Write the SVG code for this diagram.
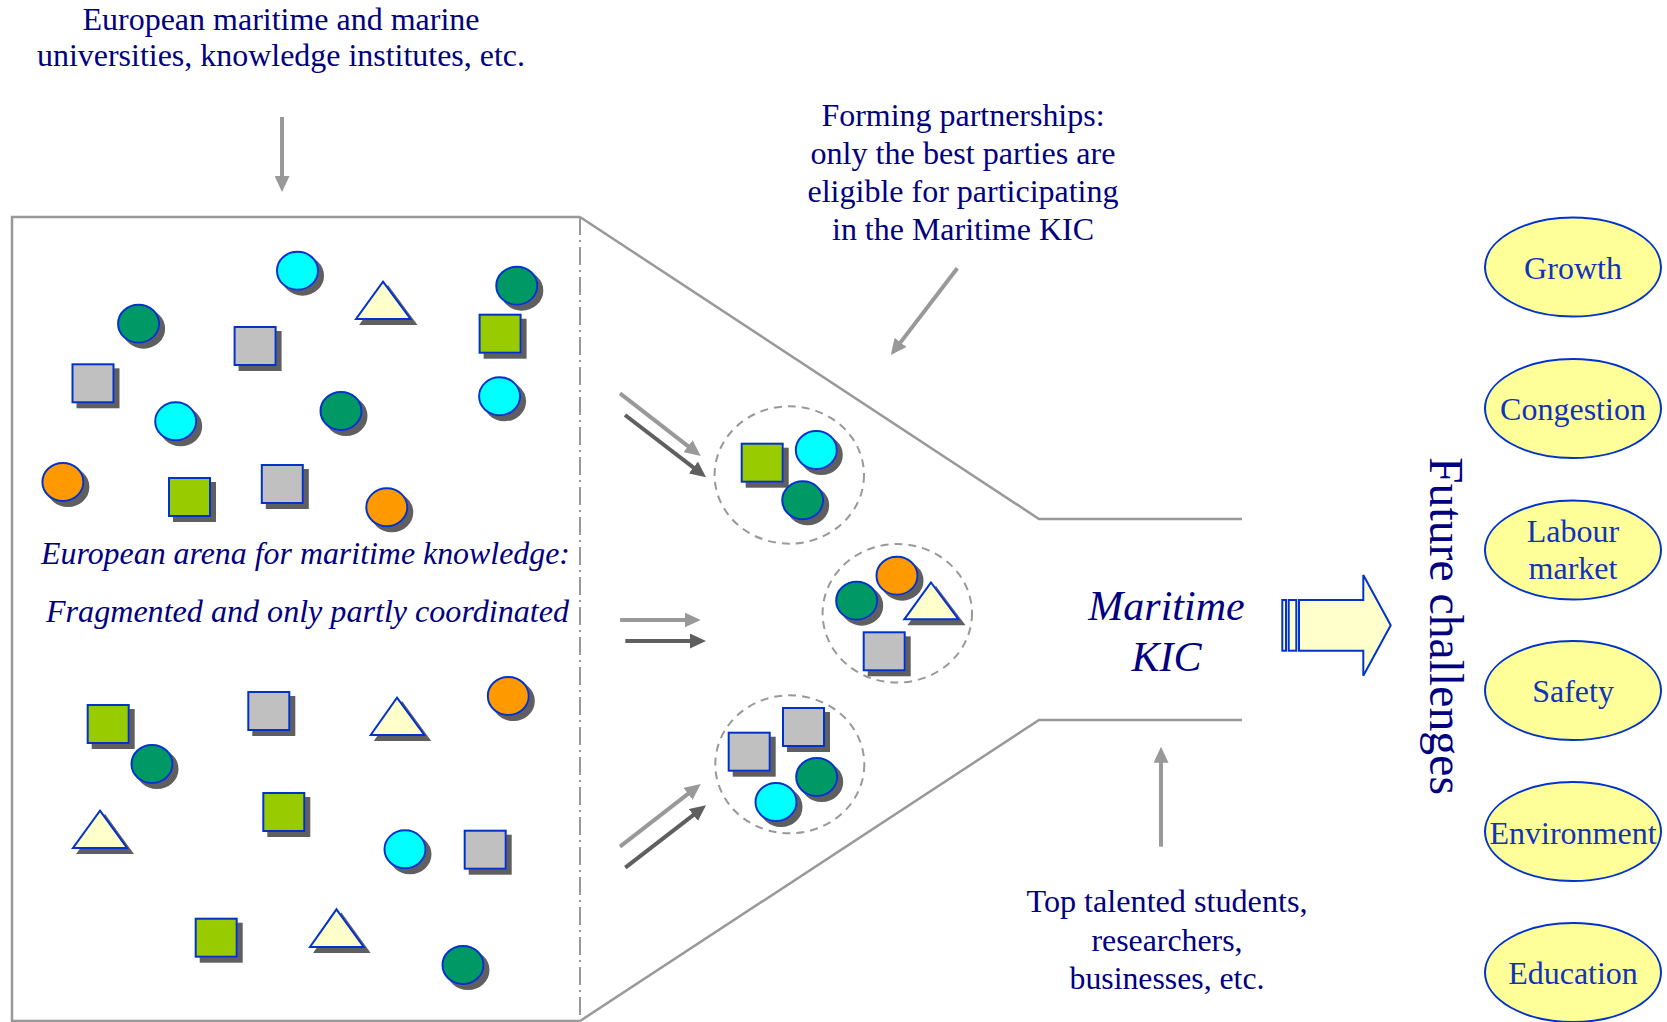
<svg xmlns="http://www.w3.org/2000/svg" width="1667" height="1022" viewBox="0 0 1667 1022">
<defs>
<filter id="sh" x="-30%" y="-30%" width="160%" height="160%">
<feOffset in="SourceAlpha" dx="5" dy="5" result="o"/>
<feFlood flood-color="#5f5f5f"/>
<feComposite in2="o" operator="in" result="s"/>
<feMerge><feMergeNode in="s"/><feMergeNode in="SourceGraphic"/></feMerge>
</filter>
<marker id="ahL" viewBox="0 0 16 15" markerUnits="userSpaceOnUse" markerWidth="16" markerHeight="15" refX="6" refY="7.5" orient="auto"><path d="M0,0 L16,7.5 L0,15 z" fill="#999"/></marker>
<marker id="ahD" viewBox="0 0 16 15" markerUnits="userSpaceOnUse" markerWidth="16" markerHeight="15" refX="6" refY="7.5" orient="auto"><path d="M0,0 L16,7.5 L0,15 z" fill="#5f5f5f"/></marker>
</defs>
<style>
.t{font-family:"Liberation Serif","Times New Roman",serif;fill:#000080;font-size:31px;text-anchor:middle}
.it{font-family:"Liberation Serif","Times New Roman",serif;fill:#000080;font-style:italic}
.ct{font-family:"Liberation Serif","Times New Roman",serif;fill:#1133bb;font-size:32px;text-anchor:middle}
.ch{fill:#ffff99;stroke:#0033cc;stroke-width:2}
.s{stroke:#0033cc;stroke-width:2;filter:url(#sh)}
.cy{fill:#00ffff}.gn{fill:#009966}.or{fill:#ff9900}.lm{fill:#99cc00}.gy{fill:#c0c0c0}.tr{fill:#ffffcc}
.fr{fill:none;stroke:#999;stroke-width:2.5}
.dc{fill:none;stroke:#999;stroke-width:2;stroke-dasharray:8 6}
.aL{stroke:#999;stroke-width:4;fill:none;marker-end:url(#ahL)}
.aD{stroke:#5f5f5f;stroke-width:4;fill:none;marker-end:url(#ahD)}
</style>
<rect width="1667" height="1022" fill="#fff"/>

<g id="frame">
<path class="fr" d="M580,217 L12,217 L12,1021 L580,1021"/>
<line x1="580" y1="217" x2="580" y2="1021" stroke="#999" stroke-width="2" stroke-dasharray="18 5 2 5"/>
<path class="fr" d="M580,217 L1039,519 L1242,519"/>
<path class="fr" d="M580,1021 L1039,720 L1242,720"/>
</g>

<g id="label-top">
<text class="t" x="281" y="29.5" textLength="397" lengthAdjust="spacingAndGlyphs">European maritime and marine</text>
<text class="t" x="281" y="66" textLength="488" lengthAdjust="spacingAndGlyphs">universities, knowledge institutes, etc.</text>
</g>

<g id="label-forming">
<text class="t" x="963" y="125.5" textLength="283" lengthAdjust="spacingAndGlyphs">Forming partnerships:</text>
<text class="t" x="963" y="163.5" textLength="305" lengthAdjust="spacingAndGlyphs">only the best parties are</text>
<text class="t" x="963" y="201.5" textLength="311" lengthAdjust="spacingAndGlyphs">eligible for participating</text>
<text class="t" x="963" y="240" textLength="262" lengthAdjust="spacingAndGlyphs">in the Maritime KIC</text>
</g>

<g id="label-arena">
<text class="it" x="41" y="564" font-size="31" textLength="529" lengthAdjust="spacingAndGlyphs">European arena for maritime knowledge:</text>
<text class="it" x="46" y="621.5" font-size="31" textLength="523" lengthAdjust="spacingAndGlyphs">Fragmented and only partly coordinated</text>
</g>

<g id="arena-shapes">
<ellipse class="s cy" cx="297.5" cy="270.7" rx="20.5" ry="19"/>
<ellipse class="s gn" cx="138.6" cy="323.7" rx="20.5" ry="19"/>
<ellipse class="s gn" cx="516.8" cy="285.7" rx="20.5" ry="19"/>
<ellipse class="s cy" cx="175.7" cy="421.3" rx="20.5" ry="19"/>
<ellipse class="s gn" cx="341" cy="411" rx="20.5" ry="19"/>
<ellipse class="s cy" cx="499.6" cy="396.3" rx="20.5" ry="19"/>
<ellipse class="s or" cx="62.9" cy="482" rx="20.5" ry="19"/>
<ellipse class="s or" cx="386.8" cy="507.3" rx="20.5" ry="19"/>
<ellipse class="s or" cx="508.3" cy="696" rx="20.5" ry="19"/>
<ellipse class="s gn" cx="152" cy="764" rx="20.5" ry="19"/>
<ellipse class="s cy" cx="405" cy="849.3" rx="20.5" ry="19"/>
<ellipse class="s gn" cx="463" cy="965" rx="20.5" ry="19"/>
<rect class="s gy" x="234.6" y="327" width="41" height="38"/>
<rect class="s lm" x="479.6" y="314.7" width="41" height="38"/>
<rect class="s gy" x="72.5" y="364.3" width="41" height="38"/>
<rect class="s lm" x="169" y="478" width="41" height="38"/>
<rect class="s gy" x="261.8" y="465" width="41" height="38"/>
<rect class="s lm" x="87.7" y="705" width="41" height="38"/>
<rect class="s gy" x="248.3" y="692" width="41" height="38"/>
<rect class="s lm" x="263.3" y="793" width="41" height="38"/>
<rect class="s gy" x="464.7" y="830.7" width="41" height="38"/>
<rect class="s lm" x="195.7" y="918.7" width="41" height="38"/>
<polygon class="s tr" points="383,281.7 410.5,319 356,319"/>
<polygon class="s tr" points="397,697.7 424.3,735 370.7,735"/>
<polygon class="s tr" points="100,810.7 127,848 73,848"/>
<polygon class="s tr" points="336.5,909.3 363.7,947 310,947"/>
</g>

<g id="cluster-top">
<ellipse class="dc" cx="789.3" cy="475" rx="74.7" ry="68.7"/>
<rect class="s lm" x="741.7" y="443.7" width="41" height="38"/>
<ellipse class="s cy" cx="816.3" cy="450" rx="20.5" ry="19"/>
<ellipse class="s gn" cx="802.7" cy="500.3" rx="20.5" ry="19"/>
</g>

<g id="cluster-middle">
<ellipse class="dc" cx="897.3" cy="613.3" rx="74.7" ry="69.3"/>
<ellipse class="s gn" cx="856.7" cy="600.7" rx="20.5" ry="19"/>
<ellipse class="s or" cx="897" cy="575.7" rx="20.5" ry="19"/>
<polygon class="s tr" points="931,582.5 958.5,619.3 904.3,619.3"/>
<rect class="s gy" x="863.7" y="632.3" width="41" height="38"/>
</g>

<g id="cluster-bottom">
<ellipse class="dc" cx="789.8" cy="764.3" rx="74.5" ry="69"/>
<rect class="s gy" x="728.7" y="732.7" width="41" height="38"/>
<rect class="s gy" x="783" y="708" width="41" height="38"/>
<ellipse class="s gn" cx="816.7" cy="777" rx="20.5" ry="19"/>
<ellipse class="s cy" cx="776" cy="802" rx="20.5" ry="19"/>
</g>

<g id="kic">
<text class="it" x="1166.5" y="620" font-size="42" text-anchor="middle">Maritime</text>
<text class="it" x="1166.5" y="671" font-size="42" text-anchor="middle">KIC</text>
</g>

<g id="block-arrow" fill="#ffffcc" stroke="#0033cc" stroke-width="2">
<rect x="1282.3" y="600" width="3.7" height="50.7"/>
<rect x="1288.7" y="600" width="7.6" height="50.7"/>
<path d="M1299,600 L1363.3,600 L1363.3,575 L1390.7,625.3 L1363.3,675.7 L1363.3,650.7 L1299,650.7 z"/>
</g>

<g id="label-talent">
<text class="t" x="1167" y="911.5" textLength="281" lengthAdjust="spacingAndGlyphs">Top talented students,</text>
<text class="t" x="1167" y="950.5" textLength="151" lengthAdjust="spacingAndGlyphs">researchers,</text>
<text class="t" x="1167" y="988.5" textLength="195" lengthAdjust="spacingAndGlyphs">businesses, etc.</text>
</g>

<g id="future-challenges">
<text class="t" font-size="48" transform="translate(1430,626) rotate(90)" x="0" y="0" style="font-size:48px" textLength="338" lengthAdjust="spacingAndGlyphs">Future challenges</text>
</g>

<g id="ch-growth"><ellipse class="ch" cx="1573" cy="267" rx="88" ry="49.5"/><text class="ct" x="1573" y="279">Growth</text></g>
<g id="ch-congestion"><ellipse class="ch" cx="1573" cy="408.5" rx="88" ry="49.5"/><text class="ct" x="1573" y="420">Congestion</text></g>
<g id="ch-labour"><ellipse class="ch" cx="1573" cy="550" rx="88" ry="49.5"/><text class="ct" x="1573" y="542">Labour</text><text class="ct" x="1573" y="579">market</text></g>
<g id="ch-safety"><ellipse class="ch" cx="1573" cy="690.5" rx="88" ry="49.5"/><text class="ct" x="1573" y="702">Safety</text></g>
<g id="ch-environment"><ellipse class="ch" cx="1573" cy="831.5" rx="88" ry="49.5"/><text class="ct" x="1573" y="843.5">Environment</text></g>
<g id="ch-education"><ellipse class="ch" cx="1573" cy="972.5" rx="88" ry="49.5"/><text class="ct" x="1573" y="984">Education</text></g>

<g id="connectors">
<line class="aL" x1="282" y1="117" x2="282" y2="182"/>
<line class="aL" x1="957.3" y1="268.3" x2="896.9" y2="347.1"/>
<line class="aL" x1="620" y1="393.3" x2="692.8" y2="449.9"/>
<line class="aD" x1="625" y1="415" x2="698.1" y2="471.2"/>
<line class="aL" x1="620" y1="620" x2="690.7" y2="620"/>
<line class="aD" x1="625.3" y1="641" x2="696" y2="641"/>
<line class="aL" x1="620" y1="846.7" x2="692.8" y2="790.1"/>
<line class="aD" x1="625.3" y1="867.7" x2="698.1" y2="811.4"/>
<line class="aL" x1="1161" y1="846.7" x2="1161" y2="756.7"/>
</g>
</svg>
